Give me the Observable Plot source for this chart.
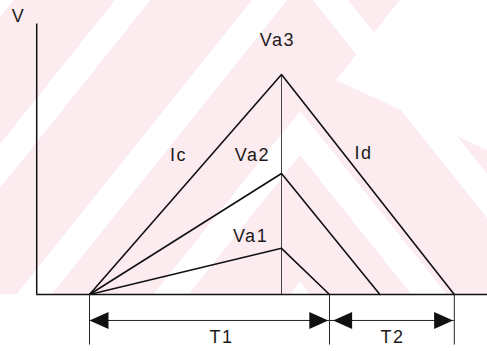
<!DOCTYPE html>
<html>
<head>
<meta charset="utf-8">
<script src="https://cdn.jsdelivr.net/npm/d3@7"></script>
<script src="https://cdn.jsdelivr.net/npm/@observablehq/plot@0.6"></script>
<style>
  html, body { margin: 0; padding: 0; background: #ffffff; }
  #wrap { position: relative; width: 487px; height: 351px; overflow: hidden; }
  #wm, #chart { position: absolute; left: 0; top: 0; }
</style>
</head>
<body>
<div id="wrap"><svg id="wm" width="487" height="351"></svg><div id="chart"></div></div>
<script>
// ---- data (time units, voltage units) ----
const seriesNames = ["Va1", "Va2", "Va3"];
const startTime = 0;
const peakTime = 8;
const peakVoltages = [2.1, 5.5, 10];
const endTimes = [10, 12.1, 15.2];
const axisLeft = -2.2, axisTop = 12.3, axisRight = 16.6;
const dimLevel = -1.18, dimBottom = -2.3;
const dimTicks = [0, 10, 15.2];
const arrowLeftTips = [0, 10.15];
const arrowRightTips = [9.95, 15.15];
const labelText = ["V", "Va3", "Va2", "Va1", "Ic", "Id", "T1", "T2"];
const labelX = [-2.96, 7.83, 6.79, 6.71, 3.71, 11.42, 5.5, 12.63];
const labelY = [12.63, 11.58, 6.31, 2.63, 6.35, 6.4, -1.92, -1.92];

// ---- watermark (decorative background) ----
(function () {
  const svg = d3.select("#wm");
  const clip = svg.append("clipPath").attr("id", "wmclip");
  clip.append("rect").attr("x", 0).attr("y", 0).attr("width", 487).attr("height", 294);
  const g = svg.append("g").attr("clip-path", "url(#wmclip)");
  g.append("rect").attr("width", 487).attr("height", 294).attr("fill", "#fdecef");
  const ax = 300, k = 1.25, period = 171;
  const chev = f => [[-300, f + (ax + 300) * k], [ax, f], [800, f + (800 - ax) * k]];
  for (let i = -2; i <= 3; i++) {
    const f1 = -231 + i * period, f2 = -187 + i * period;
    const pts = chev(f1).concat(chev(f2).reverse());
    g.append("polygon").attr("points", pts.map(p => p.join(",")).join(" ")).attr("fill", "#ffffff");
  }
  g.append("polygon").attr("points", "336,80 400,0 487,0 487,150").attr("fill", "#ffffff");
})();

// ---- chart ----
const lines = [];
seriesNames.forEach((s, i) => {
  lines.push({s, t: startTime, v: 0});
  lines.push({s, t: peakTime, v: peakVoltages[i]});
  lines.push({s, t: endTimes[i], v: 0});
});
const labels = labelText.map((text, i) => ({text, x: labelX[i], y: labelY[i]}));
const arrowHead = {
  draw(context) {
    context.moveTo(0, 0);
    context.lineTo(19, -8.5);
    context.lineTo(19, 8.5);
    context.closePath();
  }
};

const chart = Plot.plot({
  width: 487,
  height: 351,
  margin: 0,
  style: {background: "transparent", overflow: "visible"},
  x: {domain: [-89 / 24, (487 - 89) / 24], axis: null},
  y: {domain: [-57 / 22, 294 / 22], axis: null},
  marks: [
    Plot.ruleX([peakTime], {y1: 0, y2: d3.max(peakVoltages), stroke: "#444", strokeWidth: 1}),
    Plot.ruleX([axisLeft], {y1: 0, y2: axisTop, stroke: "#111", strokeWidth: 1.5}),
    Plot.ruleY([0], {x1: axisLeft, x2: axisRight, stroke: "#111", strokeWidth: 1.5}),
    Plot.line(lines, {x: "t", y: "v", z: "s", stroke: "#111", strokeWidth: 1.6}),
    Plot.ruleX(dimTicks, {y1: 0, y2: dimBottom, stroke: "#222", strokeWidth: 1}),
    Plot.ruleY([dimLevel], {x1: d3.min(dimTicks), x2: d3.max(dimTicks), stroke: "#222", strokeWidth: 1}),
    Plot.dot(arrowLeftTips, {x: d => d, y: () => dimLevel, symbol: arrowHead, fill: "#111", stroke: "none"}),
    Plot.dot(arrowRightTips, {x: d => d, y: () => dimLevel, symbol: arrowHead, rotate: 180, fill: "#111", stroke: "none"}),
    Plot.text(labels, {x: "x", y: "y", text: "text", fontSize: 18, fill: "#1a1a1a", textAnchor: "middle", lineAnchor: "middle", fontFamily: "Liberation Sans, Arial, sans-serif"})
  ]
});
chart.querySelectorAll("text").forEach(t => t.style.letterSpacing = "1.5px");
document.getElementById("chart").appendChild(chart);
</script>
</body>
</html>
